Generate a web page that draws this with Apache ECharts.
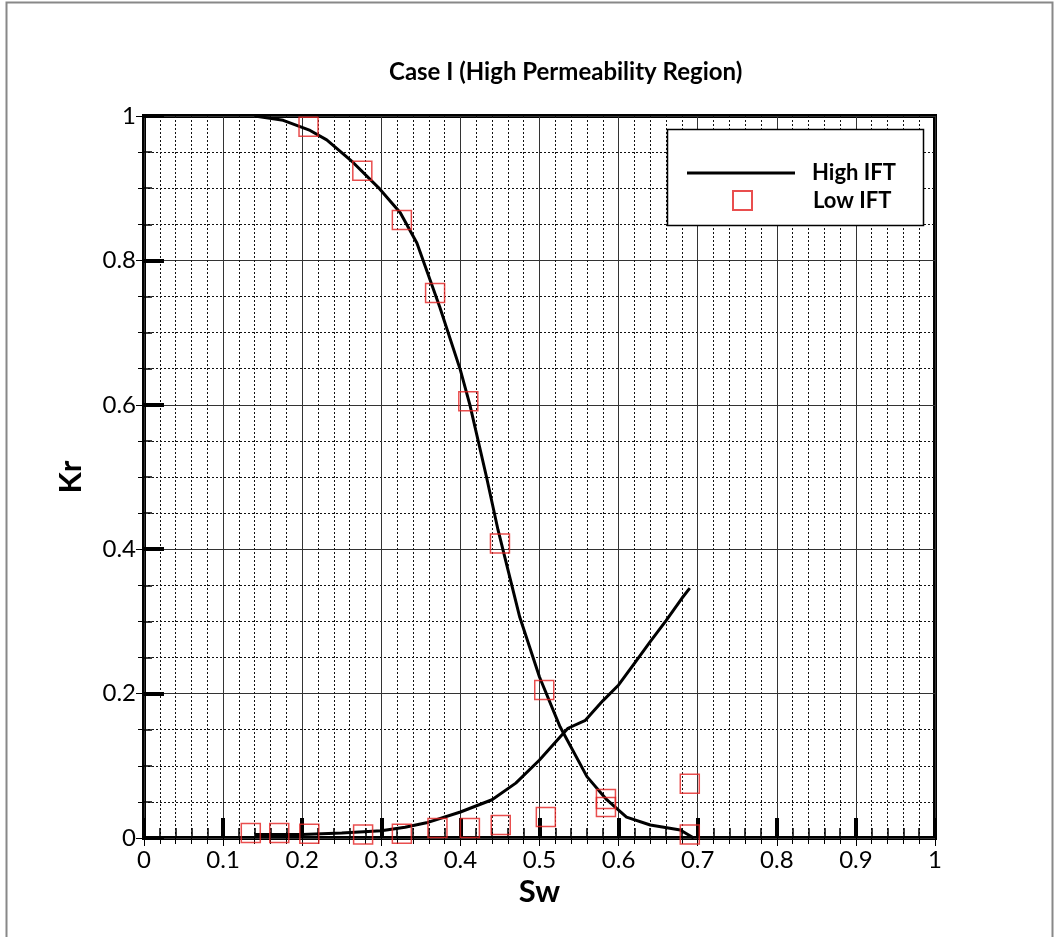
<!DOCTYPE html>
<html>
<head>
<meta charset="utf-8">
<script src="https://cdn.jsdelivr.net/npm/echarts@6/dist/echarts.min.js"></script>
<style>
html,body{margin:0;padding:0;background:#fff;}
#chart{width:1055px;height:937px;}
</style>
</head>
<body>
<div id="chart"></div>
<script>
// ---- data ----
var xTicks = [0, 0.1, 0.2, 0.3, 0.4, 0.5, 0.6, 0.7, 0.8, 0.9, 1];
var yTicks = [0, 0.2, 0.4, 0.6, 0.8, 1];

var swHighKro = [0.14, 0.176, 0.21, 0.231, 0.264, 0.298, 0.324, 0.345, 0.374, 0.4, 0.412, 0.433, 0.4475, 0.475, 0.5, 0.526, 0.56, 0.585, 0.61, 0.64, 0.678, 0.695];
var kroHigh   = [1.0, 0.994, 0.98, 0.967, 0.936, 0.899, 0.866, 0.824, 0.735, 0.648, 0.6, 0.5, 0.427, 0.306, 0.223, 0.154, 0.085, 0.053, 0.029, 0.018, 0.011, 0.0];

var swHighKrw = [0.14, 0.2, 0.25, 0.3, 0.33, 0.357, 0.4, 0.44, 0.47, 0.5, 0.526, 0.536, 0.558, 0.58, 0.6, 0.62, 0.64, 0.66, 0.68, 0.69];
var krwHigh   = [0.005, 0.005, 0.007, 0.01, 0.015, 0.021, 0.036, 0.053, 0.076, 0.108, 0.14, 0.152, 0.163, 0.19, 0.212, 0.242, 0.272, 0.301, 0.332, 0.346];

var swLowKro = [0.208, 0.276, 0.326, 0.368, 0.41, 0.45, 0.506, 0.584, 0.69];
var kroLow   = [0.985, 0.924, 0.856, 0.755, 0.605, 0.408, 0.205, 0.054, 0.005];

var swLowKrw = [0.135, 0.171, 0.209, 0.277, 0.326, 0.371, 0.412, 0.451, 0.508, 0.584, 0.69];
var krwLow   = [0.007, 0.007, 0.006, 0.005, 0.006, 0.014, 0.014, 0.018, 0.029, 0.043, 0.075];

var titleText = 'Case I (High Permeability Region)';
var xName = 'Sw';
var yName = 'Kr';
var nameHigh = 'High IFT';
var nameLow = 'Low IFT';

// ---- build ----
function pairs(xs, ys){ return xs.map(function(x,i){ return [x, ys[i]]; }); }

var FONT = 'Lato, "Liberation Sans", sans-serif';
var chart = echarts.init(document.getElementById('chart'), null, {renderer:'canvas'});

var dotted = {color:'#111', width:1, type:[2,2]};
var major = {color:'#333', width:1, type:'solid'};

var option = {
  animation: false,
  backgroundColor: '#fff',
  title: {
    text: titleText, left: 384, top: 55,
    textStyle: {fontFamily: FONT, fontSize: 24, fontWeight: 'bold', color: '#000'}
  },
  graphic: [
    {type:'rect', z: -10, shape:{x:6.5, y:2.5, width:1046, height:950}, style:{fill:'none', stroke:'#888', lineWidth:2}},
    {type:'rect', z: 50, shape:{x:667.5, y:129.5, width:256, height:96}, style:{fill:'#fff', stroke:'#000', lineWidth:1.5}}
  ],
  legend: [
    {
      data: [nameHigh], left: 687, top: 162, padding: 0, orient:'vertical', selectedMode:false,
      icon: 'rect', itemWidth: 108, itemHeight: 3, z: 60,
      textStyle: {fontFamily: FONT, fontSize: 22, fontWeight: 'bold', color:'#000', lineHeight: 20, padding:[0,0,0,12]}
    },
    {
      data: [nameLow], left: 732, top: 189.5, padding: 0, orient:'vertical', selectedMode:false,
      itemWidth: 19, itemHeight: 19, z: 60,
      textStyle: {fontFamily: FONT, fontSize: 22, fontWeight: 'bold', color:'#000', lineHeight: 20, padding:[0,0,0,56]}
    }
  ],
  grid: {
    left: 144, top: 116, width: 791, height: 722,
    show: true, borderColor: '#000', borderWidth: 4, backgroundColor: 'transparent'
  },
  xAxis: [
    {
      type:'value', min: xTicks[0], max: xTicks[xTicks.length-1], interval: 0.1,
      position:'bottom',
      name: xName, nameLocation:'middle', nameGap: 34,
      nameTextStyle: {fontFamily: FONT, fontSize: 31, fontWeight:'bold', color:'#000'},
      axisLine: {show:false},
      axisTick: {show:true, inside:true, length:20, lineStyle:{color:'#000', width:4}},
      minorTick: {show:true, splitNumber:5, length:10, lineStyle:{color:'#000', width:1.5}},
      axisLabel: {show:true, margin:10, fontFamily: FONT, fontSize:24, color:'#000'},
      splitLine: {show:true, lineStyle: major},
      minorSplitLine: {show:true, lineStyle: dotted}
    },
    {
      type:'value', min: xTicks[0], max: xTicks[xTicks.length-1], interval: 0.1,
      position:'top',
      axisLine: {show:false},
      axisTick: {show:true, inside:true, length:8, lineStyle:{color:'#000', width:1}},
      minorTick: {show:true, splitNumber:5, length:6, lineStyle:{color:'#000', width:1}},
      axisLabel: {show:false},
      splitLine: {show:false}, minorSplitLine:{show:false}
    }
  ],
  yAxis: [
    {
      type:'value', min: yTicks[0], max: yTicks[yTicks.length-1], interval: 0.2,
      position:'left',
      name: yName, nameLocation:'middle', nameGap: 58, nameRotate: 90,
      nameTextStyle: {fontFamily: FONT, fontSize: 31, fontWeight:'bold', color:'#000'},
      axisLine: {show:false},
      axisTick: {show:true, inside:true, length:20, lineStyle:{color:'#000', width:4}},
      minorTick: {show:true, splitNumber:4, length:8, lineStyle:{color:'#000', width:1.5}},
      axisLabel: {show:true, margin:8, fontFamily: FONT, fontSize:24, color:'#000'},
      splitLine: {show:true, lineStyle: major},
      minorSplitLine: {show:true, lineStyle: dotted}
    },
    {
      type:'value', min: yTicks[0], max: yTicks[yTicks.length-1], interval: 0.2,
      position:'right',
      axisLine: {show:false},
      axisTick: {show:true, inside:true, length:8, lineStyle:{color:'#000', width:1}},
      minorTick: {show:true, splitNumber:4, length:6, lineStyle:{color:'#000', width:1}},
      axisLabel: {show:false},
      splitLine: {show:false}, minorSplitLine:{show:false}
    }
  ],
  series: [
    {
      name: nameHigh, type:'line', data: pairs(swHighKro, kroHigh),
      showSymbol:false, symbol:'none', smooth:false, z: 5,
      lineStyle:{color:'#000', width:3}, itemStyle:{color:'#000'}
    },
    {
      name: nameHigh, type:'line', data: pairs(swHighKrw, krwHigh),
      showSymbol:false, symbol:'none', smooth:false, z: 5,
      lineStyle:{color:'#000', width:3}, itemStyle:{color:'#000'}
    },
    {
      name: nameLow, type:'scatter', data: pairs(swLowKro, kroLow),
      symbol:'rect', symbolSize:19, z: 6,
      itemStyle:{color:'rgba(0,0,0,0)', borderColor:'#e32222', borderWidth:1.5}
    },
    {
      name: nameLow, type:'scatter', data: pairs(swLowKrw, krwLow),
      symbol:'rect', symbolSize:19, z: 6,
      itemStyle:{color:'rgba(0,0,0,0)', borderColor:'#e32222', borderWidth:1.5}
    }
  ]
};
chart.setOption(option);
</script>
</body>
</html>
